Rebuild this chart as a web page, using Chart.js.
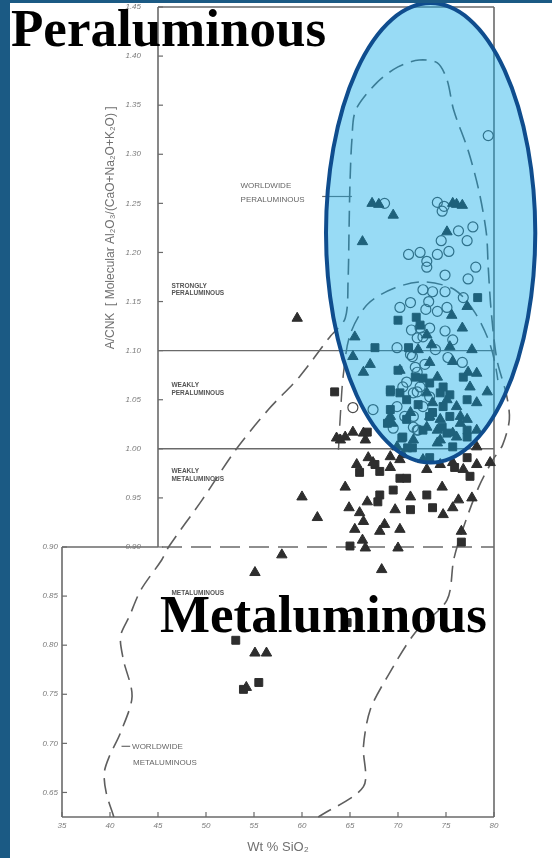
<!DOCTYPE html>
<html>
<head>
<meta charset="utf-8">
<script src="https://cdn.jsdelivr.net/npm/chart.js@4/dist/chart.umd.min.js"></script>
<style>
  html, body { margin: 0; padding: 0; background: #ffffff; }
  canvas { display: block; }
</style>
</head>
<body>
<canvas id="acnk" width="552" height="858"></canvas>
<script>
// Wt % SiO2 (x) against A/CNK (y) for granitoid samples

const xTicks = [35, 40, 45, 50, 55, 60, 65, 70, 75, 80];
const yTicksUpper = [0.90, 0.95, 1.00, 1.05, 1.10, 1.15, 1.20, 1.25, 1.30, 1.35, 1.40, 1.45];
const yTicksLower = [0.65, 0.70, 0.75, 0.80, 0.85, 0.90];

// Class boundaries (A/CNK) and the SiO2 where the upper panel starts
const classBounds = [1.10, 1.00];
const metaBound = 0.90;
const upperPanelSiO2 = 45;

// Samples: [SiO2 wt %, A/CNK]
const triangles = [
  [67.3,1.250],[68.0,1.249],[69.5,1.238],[66.3,1.211],[75.1,1.221],[75.7,1.250],[76.1,1.249],[76.7,1.248],
  [77.2,1.145],[75.6,1.136],[65.5,1.114],[76.7,1.123],[73.0,1.116],[75.4,1.104],[77.7,1.101],[65.3,1.094],
  [67.1,1.086],[73.3,1.088],[72.1,1.101],[75.7,1.089],[70.2,1.080],[77.3,1.078],[78.2,1.077],[73.5,1.106],
  [79.3,1.058],[78.2,1.047],[75.1,1.050],[76.5,1.033],[69.4,1.026],[73.0,1.022],[75.7,1.016],[78.2,1.019],
  [69.9,1.002],[65.3,1.017],[64.5,1.012],[64.0,1.009],[66.4,1.016],[78.2,1.002],[79.6,0.986],
  [71.3,1.037],[73.3,1.033],[74.1,1.006],[71.6,1.009],[77.2,1.030],
  [66.4,1.078],[74.1,1.073],[73.0,1.057],[73.6,1.047],[76.1,1.043],[74.4,1.030],[76.5,1.026],[74.1,1.019],
  [74.4,1.009],[76.1,1.012],[77.5,1.063],[69.2,1.033],[63.6,1.011],[66.6,1.009],
  [69.2,0.992],[70.5,0.994],[72.6,0.989],[67.4,0.986],[75.7,0.986],
  [60.0,0.951],[64.5,0.961],[61.6,0.930],[65.7,0.984],[66.8,0.946],[64.9,0.940],[66.0,0.935],[66.4,0.926],
  [69.7,0.938],[71.3,0.951],[74.6,0.961],[76.3,0.948],[77.7,0.950],[74.7,0.933],[75.7,0.940],[68.6,0.923],
  [70.2,0.918],[65.5,0.918],[68.1,0.916],[66.3,0.907],[66.6,0.899],[70.0,0.899],[73.0,0.979],[69.2,0.981],
  [70.2,0.989],[76.8,0.979],[78.2,0.984],[74.4,0.984],[66.9,0.991],[76.6,0.916],
  [68.3,0.877],[57.9,0.892],[55.1,0.874],[59.5,1.133],[55.1,0.792],[56.3,0.792],[54.2,0.757]
];
const squares = [
  [78.3,1.154],[70.0,1.131],[71.9,1.134],[72.3,1.126],[67.6,1.103],[71.1,1.103],[70.0,1.080],[71.8,1.073],
  [72.6,1.072],[63.4,1.058],[69.2,1.058],[70.9,1.050],[69.2,1.040],[72.1,1.045],[73.6,1.037],[74.6,1.022],
  [72.6,1.019],[70.5,1.012],[71.0,1.001],[75.7,1.002],[77.2,1.012],[73.3,0.991],[67.6,0.984],[66.0,0.976],
  [68.1,0.977],[70.2,0.970],[70.9,0.970],[69.5,0.958],[68.1,0.953],[67.9,0.946],[71.3,0.938],[73.0,0.953],
  [73.6,0.940],[65.0,0.901],[75.9,0.981],[77.5,0.972],[68.9,1.026],[70.9,1.030],[74.4,1.057],[77.2,1.050],
  [73.3,1.067],[74.7,1.063],[75.4,1.055],[74.7,1.043],[73.3,1.033],[75.4,1.033],[75.1,1.016],[77.2,1.019],
  [76.8,1.073],[70.4,1.011],[71.5,1.001],[69.2,1.060],[70.2,1.057],[77.2,0.991],[66.8,1.017],
  [76.6,0.905],[53.1,0.805],[64.7,0.823],[55.5,0.762],[53.9,0.755]
];
const circles = [
  [68.6,1.250],[74.1,1.251],[74.8,1.247],[74.6,1.242],[76.3,1.222],[77.8,1.226],[77.2,1.212],[74.5,1.212],
  [75.3,1.201],[74.1,1.198],[72.3,1.200],[71.1,1.198],[73.0,1.191],[73.0,1.185],[78.1,1.185],[74.9,1.177],
  [77.3,1.173],[81.5,1.254],[79.4,1.319],[81.4,1.389],
  [72.6,1.162],[73.6,1.160],[74.9,1.160],[70.2,1.144],[71.3,1.149],[73.2,1.150],[72.9,1.142],[74.1,1.140],
  [75.1,1.144],[76.8,1.154],[71.4,1.121],[72.3,1.123],[73.3,1.123],[74.9,1.120],[72.0,1.113],[72.6,1.114],
  [75.7,1.111],[69.9,1.103],[71.3,1.096],[73.9,1.101],[75.2,1.093],[76.7,1.088],[71.8,1.083],[72.8,1.086],
  [65.3,1.042],[70.7,1.033],[72.0,1.019],[70.5,1.063],[72.3,1.063],[71.6,1.057],[73.3,1.053],
  [69.9,1.043],[69.5,1.021],[71.6,1.022],[71.5,1.094],[72.0,1.078],[70.9,1.068],[72.0,1.058],[72.6,1.043],
  [71.6,1.033],[72.1,1.019],[67.4,1.040]
];

// Worldwide field outlines (dashed)
const worldwideOuter = [
  [40.4,0.625],[39.6,0.650],[39.4,0.670],[39.9,0.686],[41.1,0.711],[42.3,0.748],[41.4,0.785],[41.1,0.809],
  [42.0,0.829],[43.2,0.856],[45.4,0.887],[46.1,0.900],[49.6,0.948],[53.1,0.999],[56.5,1.040],[59.7,1.073],
  [62.9,1.114],[64.5,1.133],[64.8,1.172],[64.9,1.223],[65.0,1.271],[65.2,1.315],[65.6,1.345],[67.8,1.373],
  [70.0,1.389],[72.2,1.396],[74.1,1.393],[75.1,1.376],[75.8,1.345],[77.3,1.304],[78.4,1.264],[79.2,1.220],
  [79.4,1.185],[79.7,1.141],[80.3,1.091],[81.3,1.055],[81.6,1.030],[80.9,1.004],[79.9,0.989],[78.4,0.961],
  [76.6,0.914],[75.8,0.887],[75.1,0.846],[71.8,0.813],[68.9,0.768],[67.1,0.734],[66.4,0.697],[66.4,0.656],
  [61.7,0.625]
];
const worldwideInner = [
  [63.8,0.999],[64.0,1.035],[64.3,1.075],[65.0,1.116],[66.8,1.147],[69.7,1.164],[72.8,1.170],[75.9,1.162],
  [78.0,1.139],[79.6,1.106],[80.4,1.070],[80.6,1.035]
];

// Highlighted peraluminous cluster: centre and half-axes in data units
const highlightCentre = [73.4, 1.220];
const highlightHalfAxes = [10.9, 0.234];

const toXY = arr => arr.map(([x, y]) => ({ x, y }));

const scanGrey = '#6a6a6a';
const markInk = '#2e2e2e';

const framePlugin = {
  id: 'frame',
  beforeDraw(chart) {
    const { ctx } = chart;
    ctx.save();
    ctx.fillStyle = '#ffffff';
    ctx.fillRect(0, 0, chart.width, chart.height);
    ctx.restore();
  },
  beforeDatasetsDraw(chart) {
    const { ctx, scales: { x, y } } = chart;
    const X = v => x.getPixelForValue(v);
    const Y = v => y.getPixelForValue(v);
    const seg = (x1, y1, x2, y2) => { ctx.beginPath(); ctx.moveTo(x1, y1); ctx.lineTo(x2, y2); ctx.stroke(); };
    const xMin = x.min, xMax = x.max, yMin = y.min, yMax = y.max;

    ctx.save();
    ctx.strokeStyle = scanGrey;
    ctx.lineWidth = 1.6;
    // upper panel
    seg(X(upperPanelSiO2), Y(metaBound), X(upperPanelSiO2), Y(yMax));
    seg(X(upperPanelSiO2), Y(yMax), X(xMax), Y(yMax));
    seg(X(xMax), Y(yMax), X(xMax), Y(yMin));
    // lower panel
    seg(X(xMin), Y(yMin), X(xMin), Y(metaBound));
    seg(X(xMin), Y(metaBound), X(upperPanelSiO2), Y(metaBound));
    seg(X(xMin), Y(yMin), X(xMax), Y(yMin));
    // class boundaries
    ctx.lineWidth = 1.4;
    classBounds.forEach(v => seg(X(upperPanelSiO2), Y(v), X(xMax), Y(v)));
    ctx.setLineDash([20, 9]);
    seg(X(upperPanelSiO2) + 4, Y(metaBound), X(xMax), Y(metaBound));
    ctx.setLineDash([]);

    // ticks
    ctx.lineWidth = 1.2;
    yTicksUpper.forEach(v => seg(X(upperPanelSiO2), Y(v), X(upperPanelSiO2) + 5, Y(v)));
    yTicksLower.forEach(v => seg(X(xMin), Y(v), X(xMin) + 5, Y(v)));
    xTicks.forEach(v => seg(X(v), Y(yMin), X(v), Y(yMin) - 5));

    // tick labels
    ctx.fillStyle = '#7a7a7a';
    ctx.font = 'italic 8px "Liberation Sans"';
    ctx.textAlign = 'right';
    ctx.textBaseline = 'middle';
    yTicksUpper.forEach(v => ctx.fillText(v.toFixed(2), X(upperPanelSiO2) - 17, Y(v)));
    yTicksLower.forEach(v => ctx.fillText(v.toFixed(2), X(xMin) - 4, Y(v)));
    ctx.textAlign = 'center';
    xTicks.forEach(v => ctx.fillText(String(v), X(v), Y(yMin) + 9));

    // axis titles
    ctx.font = '13px "Liberation Sans"';
    ctx.fillStyle = '#707070';
    ctx.fillText('Wt % SiO\u2082', X(57.5), Y(yMin) + 30);
    ctx.save();
    ctx.translate(X(xMin) + 49, Y(1.225));
    ctx.rotate(-Math.PI / 2);
    ctx.font = '12px "Liberation Sans"';
    ctx.fillText('A/CNK  [ Molecular Al\u2082O\u2083/(CaO+Na\u2082O+K\u2082O) ]', 0, 0);
    ctx.restore();

    // field names
    ctx.textAlign = 'left';
    ctx.fillStyle = '#555555';
    ctx.font = 'bold 6.5px "Liberation Sans"';
    const names = [
      ['STRONGLY', 46.4, 1.166], ['PERALUMINOUS', 46.4, 1.158],
      ['WEAKLY', 46.4, 1.065], ['PERALUMINOUS', 46.4, 1.057],
      ['WEAKLY', 46.4, 0.977], ['METALUMINOUS', 46.4, 0.969],
      ['METALUMINOUS', 46.4, 0.853]
    ];
    names.forEach(([t, sx, a]) => ctx.fillText(t, X(sx), Y(a)));

    ctx.font = '8px "Liberation Sans"';
    ctx.fillStyle = '#666666';
    ctx.fillText('WORLDWIDE', X(53.6), Y(1.268));
    ctx.fillText('PERALUMINOUS', X(53.6), Y(1.254));
    seg(X(62.1), Y(1.257), X(65.2), Y(1.257));
    ctx.fillText('WORLDWIDE', X(42.3), Y(0.697));
    ctx.fillText('METALUMINOUS', X(42.4), Y(0.680));
    seg(X(41.2), Y(0.697), X(42.1), Y(0.697));
    ctx.restore();
  },
  afterDatasetsDraw(chart) {
    const { ctx, scales: { x, y } } = chart;
    const cx = x.getPixelForValue(highlightCentre[0]);
    const cy = y.getPixelForValue(highlightCentre[1]);
    const rx = x.getPixelForValue(highlightCentre[0] + highlightHalfAxes[0]) - cx;
    const ry = y.getPixelForValue(highlightCentre[1] - highlightHalfAxes[1]) - cy;
    ctx.save();
    ctx.beginPath();
    ctx.ellipse(cx, cy, rx, ry, 0, 0, Math.PI * 2);
    ctx.fillStyle = 'rgba(10,170,230,0.42)';
    ctx.fill();
    ctx.lineWidth = 4;
    ctx.strokeStyle = '#0f4d8e';
    ctx.stroke();
    ctx.restore();
  },
  afterDraw(chart) {
    const { ctx } = chart;
    ctx.save();
    ctx.fillStyle = '#1b5a84';
    ctx.fillRect(0, 0, 10, chart.height);
    ctx.fillRect(0, 0, chart.width, 3);
    ctx.fillStyle = '#000000';
    ctx.font = 'bold 53px "Liberation Serif"';
    ctx.textAlign = 'left';
    ctx.textBaseline = 'alphabetic';
    ctx.fillText('Peraluminous', 11, 46);
    ctx.fillText('Metaluminous', 160, 632);
    ctx.restore();
  }
};

new Chart(document.getElementById('acnk'), {
  type: 'scatter',
  data: {
    datasets: [
      { label: 'Triangles', data: toXY(triangles), pointStyle: 'triangle', pointRadius: 6,
        backgroundColor: markInk, borderColor: markInk, borderWidth: 1, clip: false },
      { label: 'Squares', data: toXY(squares), pointStyle: 'rect', pointRadius: 5.6,
        backgroundColor: markInk, borderColor: markInk, borderWidth: 1, clip: false },
      { label: 'Circles', data: toXY(circles), pointStyle: 'circle', pointRadius: 5,
        backgroundColor: 'rgba(255,255,255,0)', borderColor: '#4a4a4a', borderWidth: 1.2, clip: false },
      { label: 'Worldwide fields', data: toXY(worldwideOuter), showLine: true, pointRadius: 0,
        borderColor: '#5e5e5e', borderWidth: 1.6, borderDash: [16, 8], tension: 0.3, fill: false, clip: false },
      { label: 'Inner field', data: toXY(worldwideInner), showLine: true, pointRadius: 0,
        borderColor: '#5e5e5e', borderWidth: 1.5, borderDash: [16, 8], tension: 0.3, fill: false, clip: false }
    ]
  },
  options: {
    responsive: false,
    animation: false,
    events: [],
    layout: { padding: { left: 62, right: 58, top: 7, bottom: 41 } },
    scales: {
      x: { type: 'linear', min: 35, max: 80, display: false },
      y: { type: 'linear', min: 0.625, max: 1.45, display: false }
    },
    plugins: { legend: { display: false }, tooltip: { enabled: false } }
  },
  plugins: [framePlugin]
});
</script>
</body>
</html>
